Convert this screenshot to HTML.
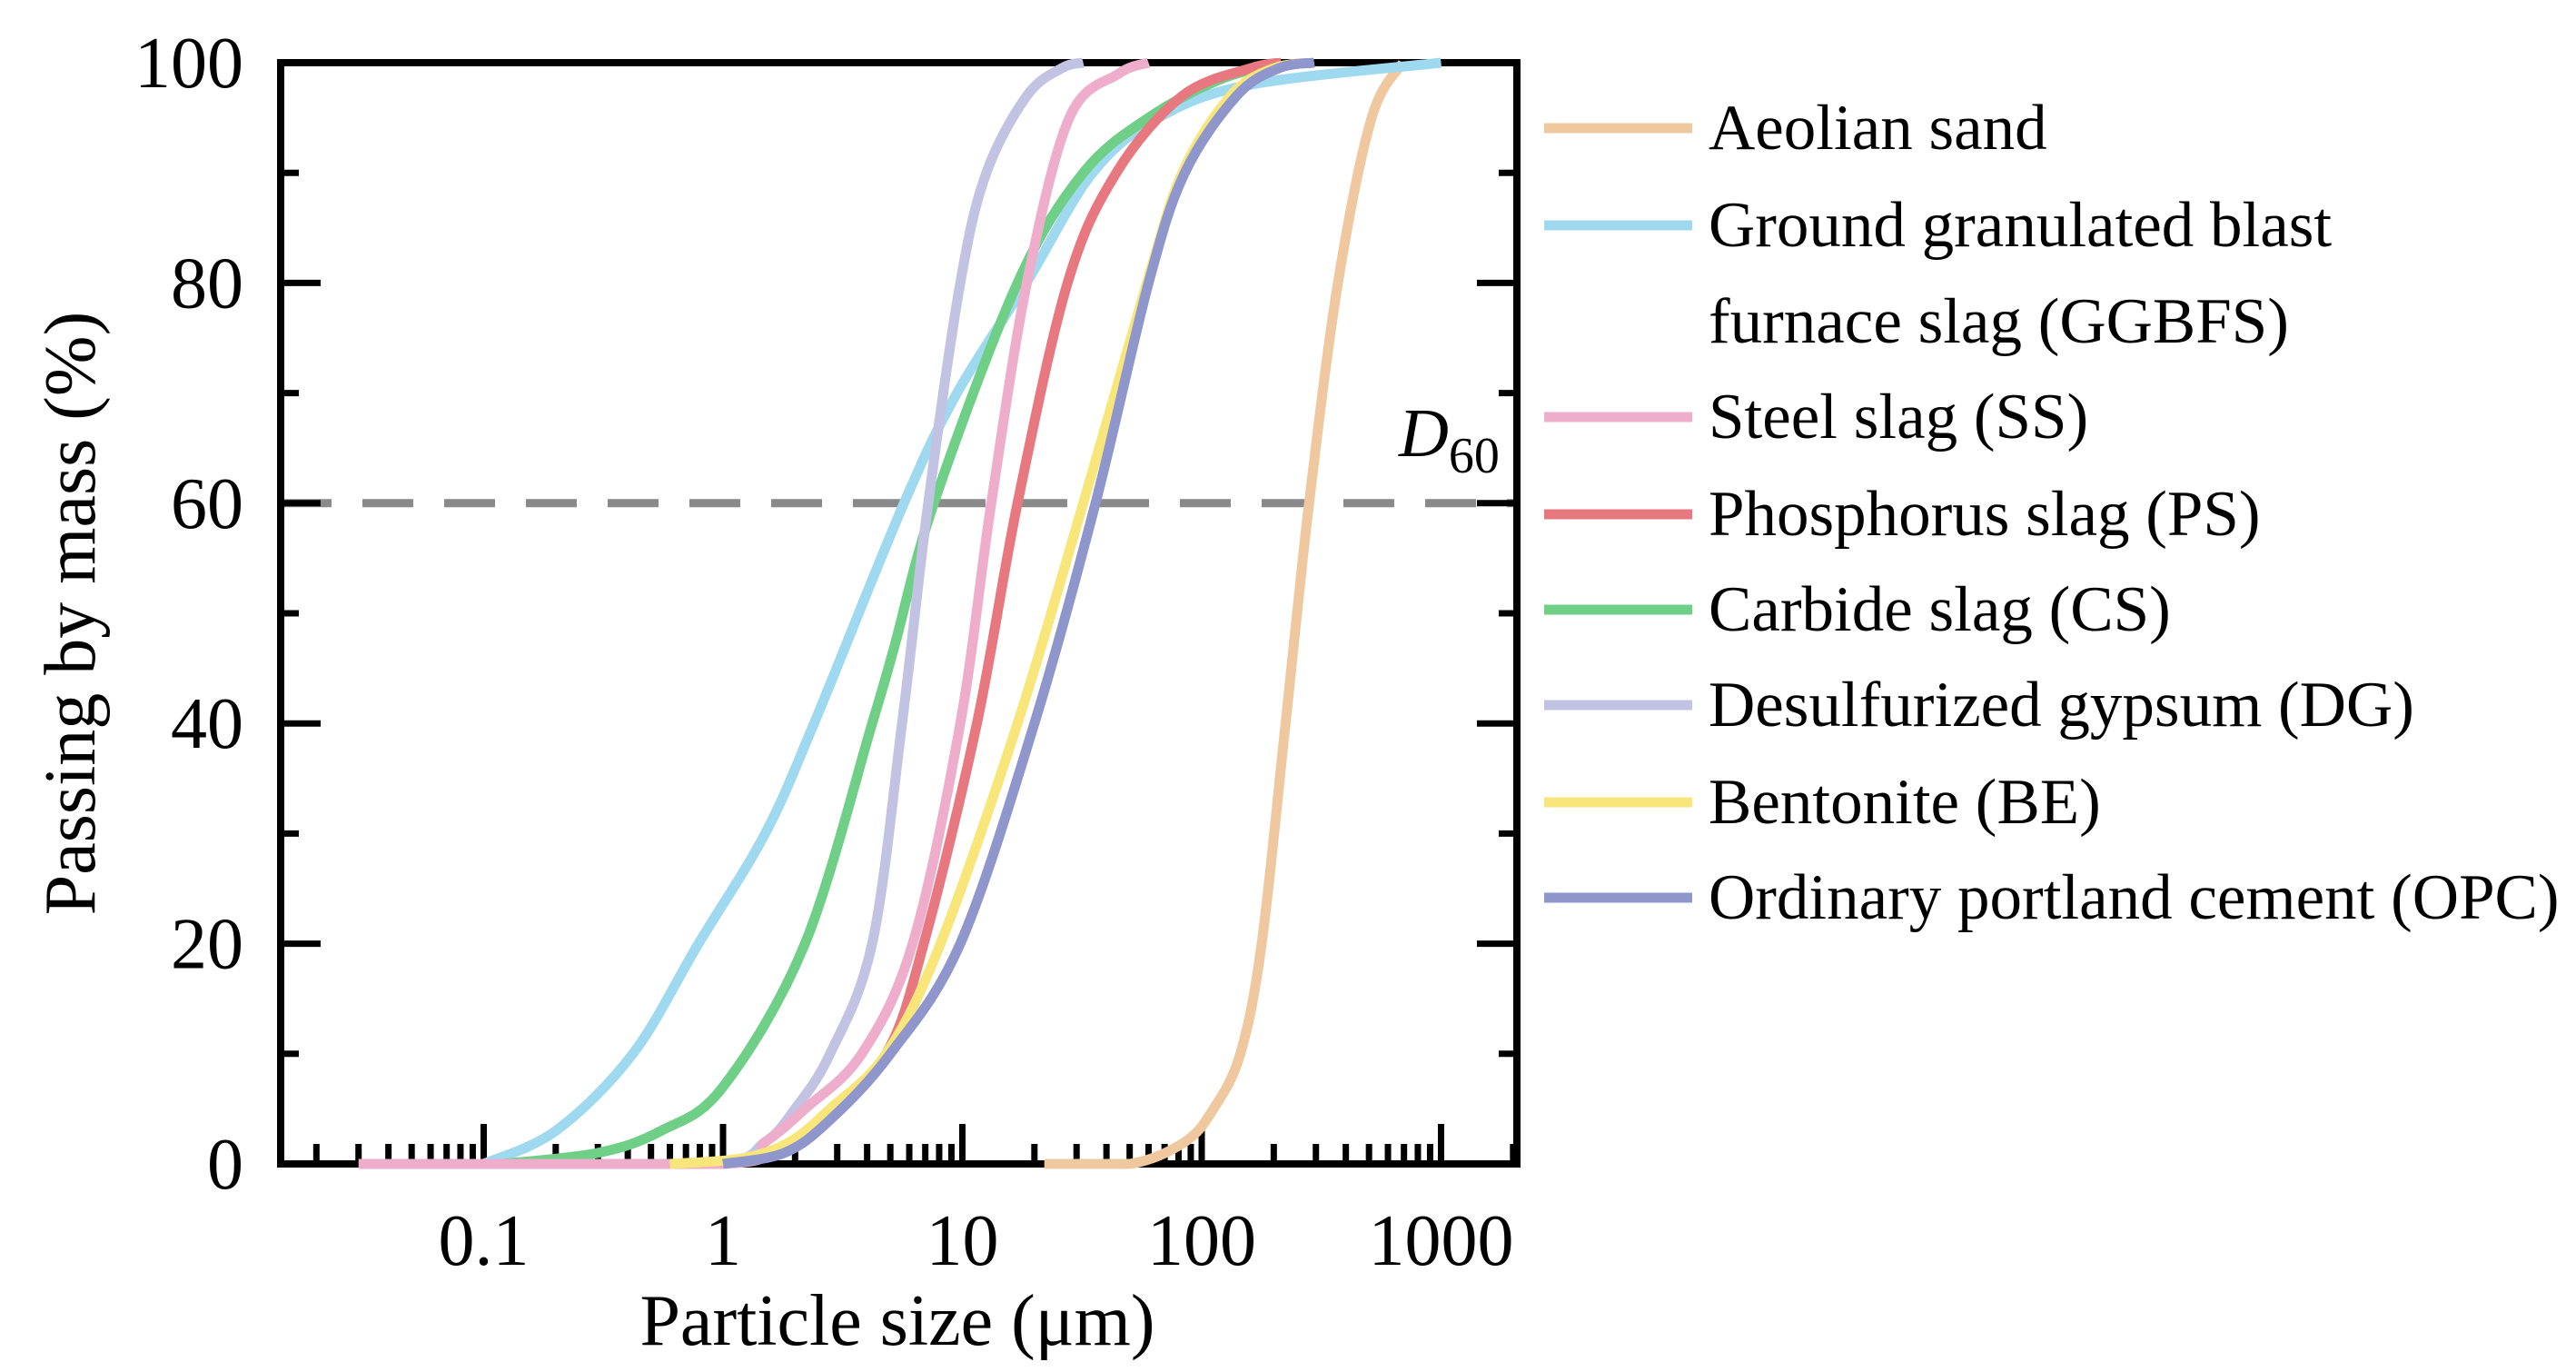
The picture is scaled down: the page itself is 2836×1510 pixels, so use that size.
<!DOCTYPE html>
<html><head><meta charset="utf-8"><style>
html,body{margin:0;padding:0;background:#fff}
svg{display:block;font-family:"Liberation Serif",serif}
</style></head><body>
<svg id="chart" width="2836" height="1510" viewBox="0 0 2836 1510" xmlns="http://www.w3.org/2000/svg">
<g id="grid"></g>
<g id="axes"></g>
<g id="series"></g>
<g id="legend"></g>
</svg>
<script>
const tickValues=[0.1,1,10,100,1000];
const tickLabels=["0.1","1","10","100","1000"];
const yTickValues=[0,20,40,60,80,100];
const seriesNames=["Aeolian sand","Ground granulated blast|furnace slag (GGBFS)","Steel slag (SS)","Phosphorus slag (PS)","Carbide slag (CS)","Desulfurized gypsum (DG)","Bentonite (BE)","Ordinary portland cement (OPC)"];
const seriesColors=["#f0c8a0","#9fd9f0","#eeaecb","#e8787f","#6fcf87","#c2c2e2","#f8e67a","#8e96cc"];
const sandSize=[22,50,85,112,145,178,224,281,371,513,692];
const sandPass=[0,0,2,5,10,20,40,60,80,95,100];
const ggbfsSize=[0.1,0.2,0.42,0.79,1.5,2.4,5.7,9.5,18.5,35,66,160,1000];
const ggbfsPass=[0,3,10,20,30,40,60,70,80,90,95,98,100];
const ssSize=[0.03,1.0,1.5,2.2,3.8,6.2,9.8,13.2,18.6,28,45,60];
const ssPass=[0,0,2,5,10,20,40,60,80,95,99,100];
const psSize=[1.0,1.6,2.6,4.8,6.9,11.5,17,27.5,44,83,160,215];
const psPass=[0,1,4,10,20,40,60,80,90,97,99.5,100];
const csSize=[0.12,0.3,0.55,1.0,2.2,4.2,5.2,7.6,17,32,60,120,215];
const csPass=[0,1,3,7,20,40,47,60,80,90,95,98.5,100];
const dgSize=[0.1,0.9,1.5,2.0,2.8,4.2,5.6,7.2,9.8,12.6,18.6,26,32];
const dgPass=[0,0,2,5,10,20,40,60,80,90,97,99.5,100];
const beSize=[0.6,1.2,1.9,2.8,4.8,8.1,17,32,59,83,132,200,295];
const bePass=[0,0.5,2,5,10,20,40,60,80,90,97,99.5,100];
const opcSize=[1.0,1.8,2.8,5.0,9.8,20,36,60,85,140,210,295];
const opcPass=[0,1,4,10,20,40,60,80,90,97,99.5,100];
const allSizes=[sandSize,ggbfsSize,ssSize,psSize,csSize,dgSize,beSize,opcSize];
const allPass=[sandPass,ggbfsPass,ssPass,psPass,csPass,dgPass,bePass,opcPass];

const NS="http://www.w3.org/2000/svg";
const L=309,R=1670,T=69,B=1281;
const x0=532.5, dec=263.5;
function xs(v){return x0+(Math.log10(v)+1)*dec;}
function ys(p){return B-(p/100)*(B-T);}
function mk(tag,attrs,parent){const e=document.createElementNS(NS,tag);for(const k in attrs)e.setAttribute(k,attrs[k]);parent.appendChild(e);return e;}
const axes=document.getElementById('axes'),grid=document.getElementById('grid'),sg=document.getElementById('series'),lg=document.getElementById('legend');

const dl=mk('line',{x1:L,x2:R,y1:ys(60),y2:ys(60),stroke:'#8a8a8a','stroke-width':9,'stroke-dasharray':'56 34'},grid);


const dt=mk('text',{x:1540,y:502,'font-size':76,'font-style':'italic'},grid);


dt.innerHTML='D<tspan font-style="normal" font-size="56" dy="18">60</tspan>';

function pathFor(xsv,ysv){
  const p=xsv.map((v,i)=>[xs(v),ys(ysv[i])]);
  let d='M'+p[0][0].toFixed(1)+','+p[0][1].toFixed(1);
  for(let i=0;i<p.length-1;i++){
    const p0=p[Math.max(0,i-1)],p1=p[i],p2=p[i+1],p3=p[Math.min(p.length-1,i+2)];
    let c1x=p1[0]+(p2[0]-p0[0])/6,c1y=p1[1]+(p2[1]-p0[1])/6;
    let c2x=p2[0]-(p3[0]-p1[0])/6,c2y=p2[1]-(p3[1]-p1[1])/6;
    c1y=Math.min(B,Math.max(T,c1y));c2y=Math.min(B,Math.max(T,c2y));
    d+='C'+c1x.toFixed(1)+','+c1y.toFixed(1)+' '+c2x.toFixed(1)+','+c2y.toFixed(1)+' '+p2[0].toFixed(1)+','+p2[1].toFixed(1);
  }
  return d;
}
const order=[0,1,4,5,2,3,6,7];
order.forEach(i=>{
  const pe=mk('path',{d:pathFor(allSizes[i],allPass[i]),fill:'none',stroke:seriesColors[i],'stroke-width':11,'stroke-linejoin':'round'},sg);
  
  
});

const fr=mk('rect',{x:L,y:T,width:R-L,height:B-T,fill:'none',stroke:'#000','stroke-width':8},axes);



for(let e=-2;e<=3;e++){
  for(let m=1;m<=9;m++){
    const v=m*Math.pow(10,e);const x=xs(v);
    if(x<L+5||x>R-3)continue;
    const len=m===1?44:22;
    const t=mk('line',{x1:x,x2:x,y1:B,y2:B-len,stroke:'#000','stroke-width':7},axes);
    
    
  }
}
tickValues.forEach((v,i)=>{
  const t=mk('text',{x:xs(v),y:1392,'font-size':80,'text-anchor':'middle'},axes);
  
  
  t.textContent=tickLabels[i];
});
for(let p=0;p<=100;p+=10){
  const major=p%20===0, len=major?44:20;
  [[L,L+len],[R,R-len]].forEach(s=>{
    const t=mk('line',{x1:s[0],x2:s[1],y1:ys(p),y2:ys(p),stroke:'#000','stroke-width':7},axes);
    
    
  });
}
yTickValues.forEach(p=>{
  const t=mk('text',{x:268,y:ys(p)+27,'font-size':80,'text-anchor':'end'},axes);
  
  
  t.textContent=p;
});
const xt=mk('text',{x:988,y:1480,'font-size':80,'text-anchor':'middle'},axes);


xt.textContent='Particle size (μm)';
const yt=mk('text',{x:0,y:0,'font-size':80,'text-anchor':'middle',transform:'translate(104,675) rotate(-90)'},axes);


yt.textContent='Passing by mass (%)';

const ly=[141,248,459,566,671,776,883,988];
seriesNames.forEach((n,i)=>{
  const g=mk('g',{},lg);
  
  
  mk('line',{x1:1700,x2:1863,y1:ly[i],y2:ly[i],stroke:seriesColors[i],'stroke-width':11},g);
  const parts=n.split('|');
  parts.forEach((s,k)=>{
    const t=mk('text',{x:1881,y:ly[i]+23+k*106,'font-size':71},g);
    t.textContent=s;
  });
});
</script>
</body></html>
